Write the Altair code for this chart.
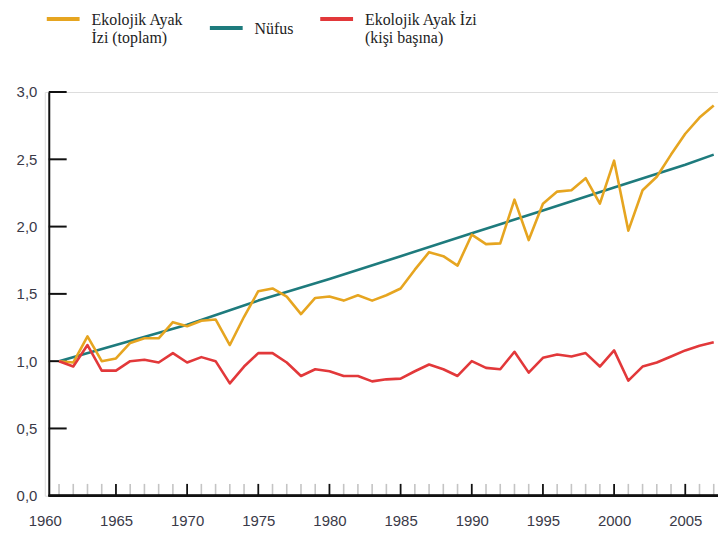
import altair as alt
import pandas as pd

# ---- data ----
years = list(range(1961, 2008))
total_footprint = [1.00, 0.99, 1.185, 1.00, 1.02, 1.135, 1.17, 1.17, 1.29, 1.26,
                   1.30, 1.31, 1.12, 1.33, 1.52, 1.54, 1.48, 1.35, 1.47, 1.48,
                   1.45, 1.49, 1.45, 1.49, 1.54, 1.68, 1.81, 1.78, 1.71, 1.94,
                   1.87, 1.875, 2.20, 1.90, 2.17, 2.26, 2.27, 2.36, 2.17, 2.49,
                   1.97, 2.27, 2.37, 2.535, 2.69, 2.81, 2.90]
per_capita = [1.00, 0.96, 1.12, 0.93, 0.93, 1.00, 1.01, 0.99, 1.06, 0.99,
              1.03, 1.00, 0.835, 0.96, 1.06, 1.06, 0.99, 0.89, 0.94, 0.925,
              0.89, 0.89, 0.85, 0.865, 0.87, 0.925, 0.975, 0.94, 0.89, 1.00,
              0.95, 0.94, 1.07, 0.915, 1.025, 1.05, 1.035, 1.06, 0.96, 1.08,
              0.855, 0.96, 0.99, 1.035, 1.08, 1.115, 1.14]
pop_years = [1961, 1965, 1970, 1975, 1980, 1985, 1990, 1995, 2000, 2005, 2007]
population = [1.00, 1.12, 1.27, 1.45, 1.61, 1.78, 1.95, 2.12, 2.29, 2.46, 2.535]

series_names = ["Ekolojik Ayak\nİzi (toplam)", "Nüfus", "Ekolojik Ayak İzi\n(kişi başına)"]
series_colors = ["#E6A520", "#1E7B7D", "#E2383A"]

y_tick_values = [0.5, 1.0, 1.5, 2.0, 2.5, 3.0]
x_label_years = [1960, 1965, 1970, 1975, 1980, 1985, 1990, 1995, 2000, 2005]
major_years = [1965, 1970, 1975, 1980, 1985, 1990, 1995, 2000, 2005]

# ---- tables ----
rows = []
for y, v in zip(pop_years, population):
    rows.append({"year": y, "value": v, "series": series_names[1], "order": 0})
for y, v in zip(years, total_footprint):
    rows.append({"year": y, "value": v, "series": series_names[0], "order": 1})
for y, v in zip(years, per_capita):
    rows.append({"year": y, "value": v, "series": series_names[2], "order": 2})
df = pd.DataFrame(rows)

minor_df = pd.DataFrame({"year": [y for y in years if y not in major_years]})
major_df = pd.DataFrame({"year": major_years})
ytick_df = pd.DataFrame({"v": y_tick_values})

W = 677
H = 406
LABEL_FONT = "Liberation Sans"
LABEL_COLOR = "#3a3a48"

x_scale = alt.Scale(domain=[1960, 2007.3], nice=False, zero=False)
y_scale = alt.Scale(domain=[0, 3], nice=False)

lines = alt.Chart(df).mark_line(strokeWidth=2.6, strokeJoin="round").encode(
    x=alt.X("year:Q", scale=x_scale,
            axis=alt.Axis(values=x_label_years, title=None, grid=False, domain=False,
                          ticks=False, labelPadding=18, labelFont=LABEL_FONT,
                          labelFontSize=15, labelColor=LABEL_COLOR, format="d",
                          labelFlush=False)),
    y=alt.Y("value:Q", scale=y_scale,
            axis=alt.Axis(values=[0, 0.5, 1, 1.5, 2, 2.5, 3], title=None, grid=False,
                          ticks=False, domainColor="#111", domainWidth=2,
                          offset=-4, labelPadding=12, labelFont=LABEL_FONT,
                          labelFontSize=15, labelColor=LABEL_COLOR,
                          labelExpr="replace(format(datum.value, '.1f'), '.', ',')")),
    color=alt.Color("series:N",
                    scale=alt.Scale(domain=series_names, range=series_colors),
                    legend=alt.Legend(title=None, orient="none", legendX=0, legendY=-99,
                                      direction="horizontal",
                                      symbolType="M-1,0.42L1,0.42",
                                      symbolSize=1089, symbolStrokeWidth=4,
                                      labelFont="Liberation Serif", labelFontSize=16,
                                      labelColor="#222222", labelOffset=10,
                                      labelBaseline="top", labelLimit=300,
                                      columnPadding=18,
                                      labelExpr="split(datum.label, '\\n')")),
    order=alt.Order("order:Q"),
    detail="series:N",
)

minor_ticks = alt.Chart(minor_df).mark_rule(color="#c4c4c4", strokeWidth=1.6).encode(
    x=alt.X("year:Q", scale=x_scale),
    y=alt.datum(0, scale=y_scale),
    y2=alt.datum(0.088),
)
major_ticks = alt.Chart(major_df).mark_rule(color="#111", strokeWidth=1.8).encode(
    x=alt.X("year:Q", scale=x_scale),
    y=alt.datum(0, scale=y_scale),
    y2=alt.datum(0.088),
)
y_ticks = alt.Chart(ytick_df).mark_rule(color="#111", strokeWidth=2).encode(
    y=alt.Y("v:Q", scale=y_scale),
    x=alt.value(4),
    x2=alt.value(22),
)
x_axis_line = alt.Chart(ytick_df).mark_rule(color="#111", strokeWidth=2).encode(
    y=alt.datum(0, scale=y_scale),
    x=alt.value(4),
    x2=alt.value(W),
)

chart = alt.layer(minor_ticks, major_ticks, y_ticks, x_axis_line, lines).properties(
    width=W, height=H,
    padding={"left": 37, "top": 83, "right": 0, "bottom": 40},
    autosize=alt.AutoSizeParams(type="none"),
).configure_view(stroke=None).configure(background="white")

chart.save("out.html", embed_options={"renderer": "svg", "actions": False})
